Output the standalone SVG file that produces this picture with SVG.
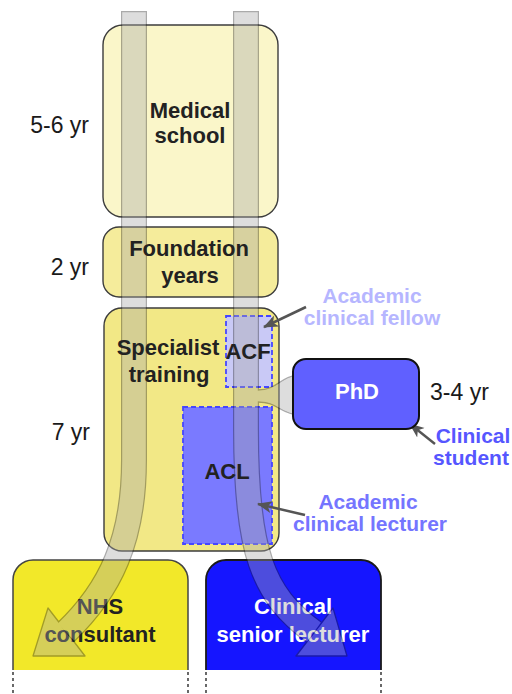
<svg xmlns="http://www.w3.org/2000/svg" width="512" height="694" viewBox="0 0 512 694">
<defs>
<style>
.box{stroke:#3c3c3c;stroke-width:1.4}
.dash{fill:none;stroke:#4646ff;stroke-width:1.8;stroke-dasharray:5 3}
.t{font-family:"Liberation Sans",Arial,sans-serif;font-weight:bold;font-size:22px;text-anchor:middle}
.s{font-size:21px}
.yr{font-family:"Liberation Sans",Arial,sans-serif;font-size:23px;fill:#1a1a1a}
.lab{fill:none;stroke:#555;stroke-width:2.5;marker-end:url(#ah)}
.rout{fill:none;stroke:#222;stroke-width:26}
.rin{fill:none;stroke:#a8a8a8;stroke-width:23.6}
.bot{fill:none;stroke:#444;stroke-width:1.6;stroke-dasharray:3 3}
</style>
<marker id="ah" markerUnits="userSpaceOnUse" markerWidth="16" markerHeight="14" refX="14" refY="6" orient="auto">
<path d="M0,0 L15,6 L0,12 L4,6 Z" fill="#555"/>
</marker>
</defs>
<rect width="512" height="694" fill="#fff"/>

<g id="medical-school">
<rect class="box" x="103" y="25" width="175" height="192" rx="20" fill="#faf6c9"/>
</g>
<g id="foundation">
<rect class="box" x="103" y="227" width="175" height="70" rx="16" fill="#f5ec9b"/>
</g>
<g id="specialist">
<rect class="box" x="104" y="308" width="175" height="243" rx="18" fill="#f2e886"/>
</g>
<g id="acf">
<rect class="dash" x="226" y="316" width="46" height="71" style="fill:#c9c9f6"/>
</g>
<g id="acl">
<rect class="dash" x="183" y="407" width="89" height="137" style="fill:#7a7aff"/>
</g>
<g id="nhs">
<path d="M13,670 V580 a20,20 0 0 1 20,-20 H168 a20,20 0 0 1 20,20 V670 Z" fill="#f2e829"/>
<path d="M13,670 V580 a20,20 0 0 1 20,-20 H168 a20,20 0 0 1 20,20 V670" fill="none" stroke="#444" stroke-width="1.5"/>
<path class="bot" d="M13,672 V694 M188,672 V694"/>
<text class="t" x="100" y="614" fill="#222">NHS</text>
<text class="t" x="100" y="642" fill="#222">consultant</text>
</g>
<g id="csl">
<path d="M206,670 V580 a20,20 0 0 1 20,-20 H361 a20,20 0 0 1 20,20 V670 Z" fill="#1515ff"/>
<path d="M206,670 V580 a20,20 0 0 1 20,-20 H361 a20,20 0 0 1 20,20 V670" fill="none" stroke="#1a1a1a" stroke-width="1.8"/>
<path class="bot" d="M206,672 V694 M381,672 V694"/>
<text class="t" x="293" y="614" fill="#fff">Clinical</text>
<text class="t" x="293" y="642" fill="#fff">senior lecturer</text>
</g>

<g id="connectors">
<g opacity="0.38">
<path class="rout" d="M134,11 V460 C134,540 110,590 66,632"/>
<path class="rout" d="M246,11 V430 C246,550 262,595 314,632"/>
<path d="M246,390 H258 C278,390 280,376 300,375 V415 C280,414 278,402 258,402 H246 Z" fill="#a8a8a8" stroke="#222" stroke-width="1.3"/>
<polygon points="33,656 85,656 48,608" fill="#a8a8a8" stroke="#222" stroke-width="1.3" stroke-linejoin="round"/>
<polygon points="347,656 296,656 333,608" fill="#a8a8a8" stroke="#222" stroke-width="1.3" stroke-linejoin="round"/>
<path class="rin" d="M134,12.3 V460 C134,540 110,590 66,632"/>
<path class="rin" d="M246,12.3 V430 C246,550 262,595 314,632"/>
<path d="M250,391 H258 C278,391 280,377 299,376 V414 C280,413 278,401 258,401 H250 Z" fill="#a8a8a8"/>
</g>
<path class="lab" d="M306,307 L264,327"/>
<path class="lab" d="M435,444 L410,424"/>
<path class="lab" d="M305,515 L258,504"/>
</g>

<g id="box-texts">
<text class="t" x="190" y="118" fill="#222">Medical</text>
<text class="t" x="190" y="143" fill="#222">school</text>
<text class="t" x="189" y="256" fill="#222">Foundation</text>
<text class="t" x="190" y="283" fill="#222">years</text>
<text class="t" x="168" y="355" fill="#222">Specialist</text>
<text class="t" x="169" y="382" fill="#222">training</text>
<text class="t" x="248" y="359" fill="#222">ACF</text>
<text class="t" x="227" y="479" fill="#222">ACL</text>
</g>

<g id="phd">
<rect x="293" y="359" width="126" height="70" rx="13" fill="#6060ff" stroke="#111" stroke-width="2"/>
<text class="t" x="357" y="399" fill="#fff">PhD</text>
</g>

<g id="labels">
<text class="yr" x="89" y="133" text-anchor="end">5-6 yr</text>
<text class="yr" x="89" y="275" text-anchor="end">2 yr</text>
<text class="yr" x="90" y="440" text-anchor="end">7 yr</text>
<text class="yr" x="430" y="400">3-4 yr</text>
<text class="t s" x="372" y="303" fill="#b6b6ff">Academic</text>
<text class="t s" x="372" y="325" fill="#b6b6ff">clinical fellow</text>
<text class="t s" x="473" y="443" fill="#5656ff">Clinical</text>
<text class="t s" x="471" y="465" fill="#5656ff">student</text>
<text class="t s" x="368" y="509" fill="#7575ff">Academic</text>
<text class="t s" x="370" y="531" fill="#7575ff">clinical lecturer</text>
</g>
</svg>
